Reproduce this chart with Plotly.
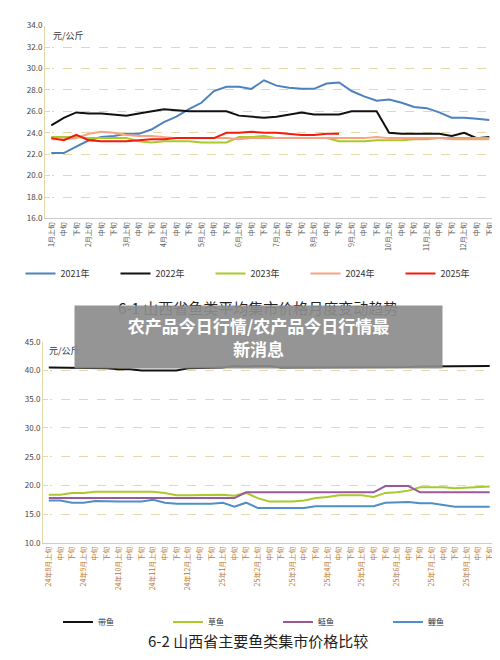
import plotly.graph_objects as go

months1 = [f"{m}月" for m in range(1, 13)]
periods = ["上旬", "中旬", "下旬"]
cats1 = []
for m in months1:
    for i, p in enumerate(periods):
        cats1.append(m + p if i == 0 else p)

y2021 = [22.1,22.1,22.7,23.3,23.6,23.7,23.9,23.9,24.3,25.0,25.5,26.2,26.8,27.9,28.3,28.3,28.1,28.9,28.4,28.2,28.1,28.1,28.6,28.7,27.9,27.4,27.0,27.1,26.8,26.4,26.3,25.9,25.4,25.4,25.3,25.2]
y2022 = [24.7,25.4,25.9,25.8,25.8,25.7,25.6,25.8,26.0,26.2,26.1,26.0,26.0,26.0,26.0,25.6,25.5,25.4,25.5,25.7,25.9,25.7,25.7,25.7,26.0,26.0,26.0,24.0,23.9,23.9,23.9,23.9,23.7,24.0,23.5,23.6]
y2023 = [23.6,23.6,23.6,23.5,23.5,23.5,23.5,23.2,23.1,23.2,23.2,23.2,23.1,23.1,23.1,23.6,23.6,23.7,23.5,23.5,23.5,23.5,23.5,23.2,23.2,23.2,23.3,23.3,23.3,23.4,23.4,23.5,23.5,23.5,23.5,23.5]
y2024 = [23.4,23.4,23.5,23.9,24.1,24.0,23.8,23.7,23.7,23.6,23.5,23.5,23.5,23.5,23.5,23.4,23.5,23.5,23.5,23.5,23.5,23.5,23.5,23.5,23.5,23.5,23.6,23.5,23.5,23.5,23.5,23.5,23.4,23.4,23.4,23.4]
y2025 = [23.5,23.3,23.8,23.3,23.2,23.2,23.2,23.3,23.4,23.4,23.5,23.5,23.5,23.5,24.0,24.0,24.1,24.0,24.0,23.9,23.8,23.8,23.9,23.9]

months2 = ["24年8月","24年9月","24年10月","24年11月","24年12月","25年1月","25年2月","25年3月","25年4月","25年5月","25年6月","25年7月","25年8月"]
cats2 = []
for m in months2:
    for i, p in enumerate(periods):
        cats2.append(m + p if i == 0 else p)

daiyu = [40.5,40.5,40.4,40.4,40.4,40.4,40.2,40.2,40.0,40.0,40.0,40.0,40.4,40.4,40.5,40.5,40.8,40.7,40.8,40.8,40.5,40.5,40.5,40.5,40.5,40.5,40.5,40.5,40.5,40.5,40.5,40.6,40.7,40.7,40.7,40.7,40.7,40.8,40.8]
caoyu = [18.4,18.4,18.7,18.7,18.9,18.9,18.9,18.9,18.9,18.9,18.7,18.3,18.3,18.3,18.3,18.4,18.2,18.7,17.8,17.2,17.2,17.2,17.4,17.8,18.0,18.3,18.3,18.3,18.0,18.7,18.8,19.1,19.7,19.7,19.7,19.5,19.6,19.8,19.8]
lianyu = [17.8]*17 + [18.8]*12 + [19.9]*3 + [18.8]*7
liyu = [17.4,17.4,17.0,17.0,17.3,17.2,17.2,17.2,17.2,17.5,17.0,16.8,16.8,16.8,16.8,17.0,16.3,17.0,16.1,16.1,16.1,16.1,16.1,16.4,16.4,16.4,16.4,16.4,16.4,17.0,17.0,17.1,16.9,16.9,16.6,16.3,16.3,16.3,16.3]

fig = go.Figure()
x1 = list(range(len(cats1)))
x2 = list(range(len(cats2)))
for name, ys, c in [("2021年", y2021, "#4e81bd"), ("2022年", y2022, "#111111"), ("2023年", y2023, "#a9c92c"),
                    ("2024年", y2024, "#f7a383"), ("2025年", y2025, "#f51a0e")]:
    fig.add_trace(go.Scatter(x=x1[:len(ys)], y=ys, name=name, mode="lines", line=dict(color=c, width=2),
                             xaxis="x", yaxis="y", legend="legend"))
for name, ys, c in [("带鱼", daiyu, "#111111"), ("草鱼", caoyu, "#a9c92c"), ("鲢鱼", lianyu, "#9a5a9a"), ("鲤鱼", liyu, "#4e8fc6")]:
    fig.add_trace(go.Scatter(x=x2, y=ys, name=name, mode="lines", line=dict(color=c, width=2),
                             xaxis="x2", yaxis="y2", legend="legend2"))

grid = dict(showgrid=True, gridcolor="#e6d8a8", griddash="dash", gridwidth=1)
fig.update_layout(
    width=500, height=660, margin=dict(l=0, r=0, t=0, b=0),
    paper_bgcolor="white", plot_bgcolor="white",
    font=dict(family="Noto Sans CJK SC", size=8, color="#444"),
    xaxis=dict(domain=[0.074, 0.975], anchor="y", tickmode="array", tickvals=x1, ticktext=cats1,
               tickangle=-90, range=[-0.5, 35.5], showline=True, linecolor="#ccc", showgrid=False,
               tickfont=dict(size=7, color="#555")),
    yaxis=dict(domain=[0.685, 0.982], anchor="x", range=[16, 34], dtick=2, tickformat=".1f",
               showline=True, linecolor="#e6d8a8", tickfont=dict(size=8, color="#444"), **grid),
    xaxis2=dict(domain=[0.07, 0.975], anchor="y2", tickmode="array", tickvals=x2, ticktext=cats2,
                tickangle=-90, range=[-0.5, 38.5], showline=True, linecolor="#ccc", showgrid=False,
                tickfont=dict(size=7, color="#b8762f")),
    yaxis2=dict(domain=[0.185, 0.495], anchor="x2", range=[10, 45], dtick=5, tickformat=".1f",
                showline=True, linecolor="#e6d8a8", tickfont=dict(size=8, color="#444"), **grid),
    legend=dict(orientation="h", x=0.5, xanchor="center", y=0.588, yanchor="middle",
                font=dict(size=9, color="#333"), itemwidth=30, entrywidth=50, tracegroupgap=0),
    legend2=dict(orientation="h", x=0.54, xanchor="center", y=0.063, yanchor="middle",
                 font=dict(size=8, color="#333"), itemwidth=30, entrywidth=65),
    annotations=[
        dict(text="元/公斤", x=0.085, y=0.98, xref="paper", yref="paper", xanchor="left", yanchor="top",
             showarrow=False, font=dict(size=9, color="#333")),
        dict(text="元/公斤", x=0.077, y=0.495, xref="paper", yref="paper", xanchor="left", yanchor="top",
             showarrow=False, font=dict(size=9, color="#333")),
        dict(text="6-1 山西省鱼类平均集市价格月度变动趋势", x=0.5, y=0.548, xref="paper", yref="paper",
             showarrow=False, font=dict(size=15, color="#222", family="Noto Sans CJK SC")),
        dict(text="6-2 山西省主要鱼类集市价格比较", x=0.5, y=0.015, xref="paper", yref="paper",
             showarrow=False, font=dict(size=15, color="#222", family="Noto Sans CJK SC")),
        dict(text="<b>农产品今日行情/农产品今日行情最<br>新消息</b>", x=0.5, y=0.502, xref="paper", yref="paper",
             showarrow=False, bgcolor="rgba(140,140,140,0.92)", width=365, height=60,
             font=dict(size=17, color="white")),
    ],
)
fig.layout.legend.y = 0.6
fig.write_html("out.html")
